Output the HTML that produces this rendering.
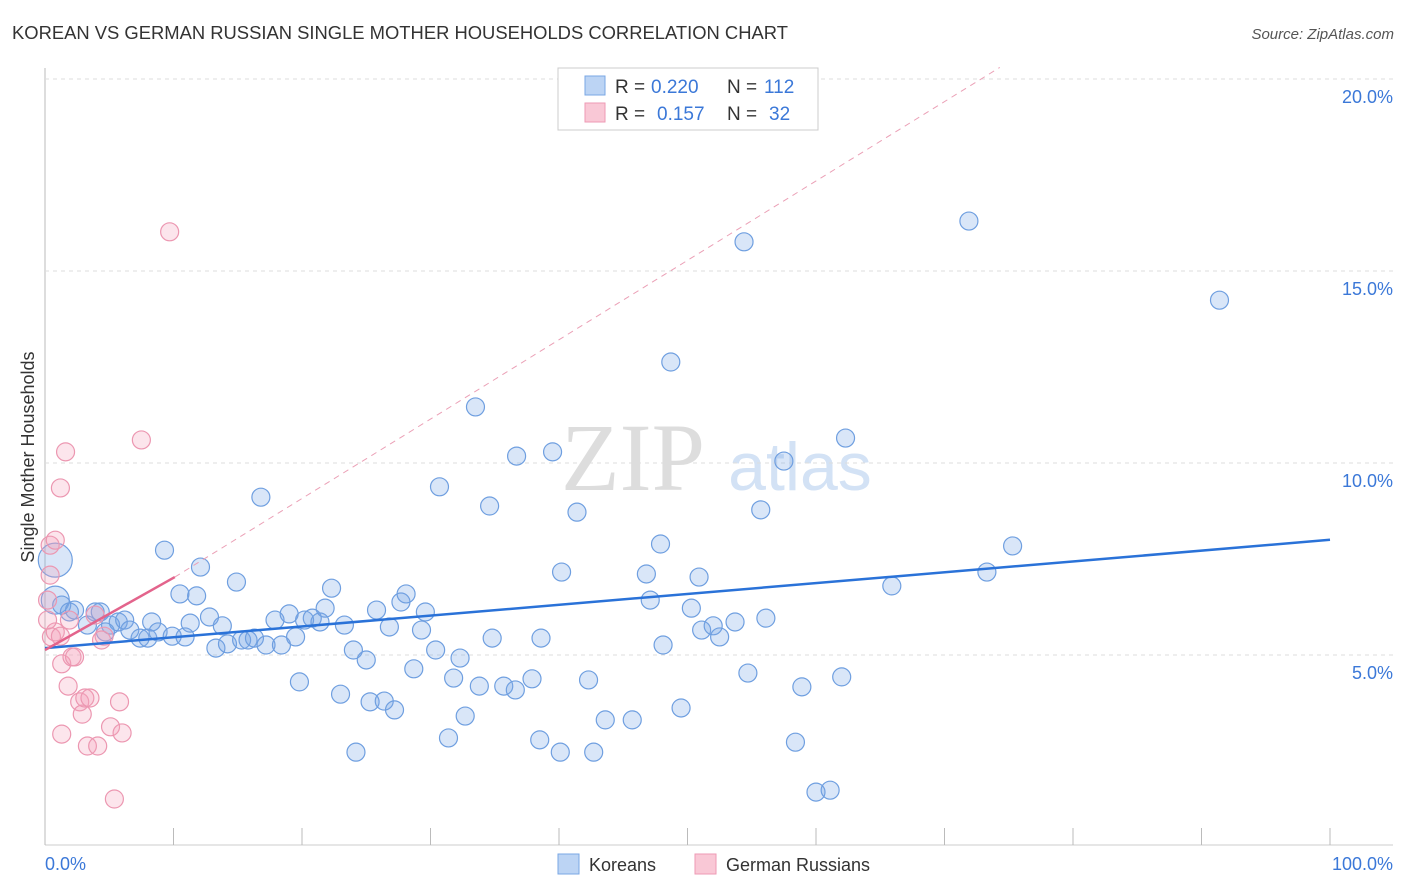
<!DOCTYPE html>
<html><head><meta charset="utf-8"><style>
body{margin:0;background:#fff;font-family:"Liberation Sans",sans-serif;}
svg{display:block}
</style></head><body>
<svg id="chart" width="1406" height="892">
<text x="12" y="39" font-size="18.4" fill="#333">KOREAN VS GERMAN RUSSIAN SINGLE MOTHER HOUSEHOLDS CORRELATION CHART</text>
<text x="1394" y="39" font-size="15" fill="#555" font-style="italic" text-anchor="end">Source: ZipAtlas.com</text>
<text x="633" y="490" font-size="96" fill="#ddd" font-family="Liberation Serif,serif" text-anchor="middle">ZIP</text>
<text x="800" y="490" font-size="68" fill="#d3e2f5" text-anchor="middle">atlas</text>
<g id="grid"></g><g id="pts"></g><g id="lines"></g>
<text transform="translate(34,457) rotate(-90)" font-size="18" fill="#333" text-anchor="middle">Single Mother Households</text>
<text x="45" y="870" font-size="18" fill="#3b78d8">0.0%</text>
<text x="1393" y="870" font-size="18" fill="#3b78d8" text-anchor="end">100.0%</text>
<g>
<rect x="558" y="68" width="260" height="62" fill="#fff" stroke="#ccc"/>
<rect x="585" y="76" width="20" height="19" fill="#bcd4f4" stroke="#7aa7e4"/>
<rect x="585" y="103" width="20" height="19" fill="#f9c8d6" stroke="#ee9ab4"/>
<text y="93" font-size="19" fill="#333"><tspan x="615">R =</tspan><tspan x="651" fill="#3b78d8">0.220</tspan><tspan x="727">N =</tspan><tspan x="764" fill="#3b78d8">112</tspan></text>
<text y="120" font-size="19" fill="#333"><tspan x="615">R =</tspan><tspan x="657" fill="#3b78d8">0.157</tspan><tspan x="727">N =</tspan><tspan x="769" fill="#3b78d8">32</tspan></text>
</g>
<g>
<rect x="558" y="854" width="21" height="20" fill="#bcd4f4" stroke="#7aa7e4"/>
<text x="589" y="871" font-size="18" fill="#333">Koreans</text>
<rect x="695" y="854" width="21" height="20" fill="#f9c8d6" stroke="#ee9ab4"/>
<text x="726" y="871" font-size="18" fill="#333">German Russians</text>
</g>
</svg>
<script>
const yTicks=[5,10,15,20];
const xTicks=[0,10,20,30,40,50,60,70,80,90,100];
const koreanX=[0.8,0.8,1.3,1.9,2.3,3.9,4.3,3.3,5.1,5.7,6.2,4.7,6.6,7.4,8.0,8.3,8.8,9.3,9.9,10.5,10.9,11.3,11.8,12.1,12.8,13.3,13.8,14.2,14.9,15.3,15.8,16.3,16.8,17.2,17.9,18.4,19.0,19.5,19.8,20.2,20.8,21.4,21.8,22.3,23.0,23.3,24.0,24.2,25.0,25.3,25.8,26.4,26.8,27.2,27.7,28.1,28.7,29.3,29.6,30.4,30.7,31.4,31.8,32.3,32.7,33.5,33.8,34.6,34.8,35.7,36.6,36.7,37.9,38.5,38.6,39.5,40.1,40.2,41.4,42.3,42.7,43.6,45.7,46.8,47.1,47.9,48.1,48.7,49.5,50.3,50.9,51.1,52.0,52.5,53.7,54.4,54.7,55.7,56.1,57.5,58.4,58.9,60.0,61.1,62.0,62.3,65.9,71.9,73.3,75.3,91.4];
const koreanY=[7.47,6.43,6.30,6.12,6.17,6.12,6.12,5.78,5.78,5.86,5.91,5.60,5.65,5.44,5.44,5.86,5.60,7.73,5.49,6.59,5.47,5.83,6.54,7.29,5.99,5.18,5.76,5.29,6.90,5.39,5.39,5.44,9.11,5.26,5.91,5.26,6.07,5.47,4.30,5.91,5.96,5.86,6.22,6.74,3.98,5.78,5.13,2.47,4.87,3.78,6.17,3.80,5.73,3.57,6.38,6.59,4.64,5.65,6.12,5.13,9.38,2.84,4.40,4.92,3.41,11.46,4.19,8.88,5.44,4.19,4.09,10.18,4.38,2.79,5.44,10.29,2.47,7.16,8.72,4.35,2.47,3.31,3.31,7.11,6.43,7.89,5.26,12.63,3.62,6.22,7.03,5.65,5.76,5.47,5.86,15.76,4.53,8.78,5.96,10.05,2.73,4.17,1.43,1.48,4.43,10.65,6.80,16.30,7.16,7.84,14.24];
const grX=[0.4,0.8,0.4,0.2,0.5,0.8,1.2,1.3,1.8,1.6,1.2,1.3,2.1,2.3,1.9,2.7,2.9,3.1,3.3,4.1,3.5,4.6,5.1,5.4,5.8,6.0,7.5,9.7,0.2,3.9,4.4];
const grY=[7.86,7.99,7.08,6.43,5.47,5.60,5.49,4.77,4.19,10.29,9.35,2.94,4.95,4.95,5.91,3.78,3.46,3.88,2.63,2.63,3.88,5.49,3.13,1.25,3.78,2.97,10.60,16.02,5.91,6.04,5.39];
const koreanFit=[5.18,8.0];
const grFit=[5.13,7.03];
const grExtEnd=[74.3,20.3];
const NS='http://www.w3.org/2000/svg';
const X=v=>45+v*12.85, Y=v=>847-v*38.4;
function mk(t,a,p){const e=document.createElementNS(NS,t);for(const k in a)e.setAttribute(k,a[k]);p.appendChild(e);return e;}
const grid=document.getElementById('grid');
mk('line',{x1:45,y1:68,x2:45,y2:845,stroke:'#bbb'},grid);
mk('line',{x1:45,y1:845,x2:1393,y2:845,stroke:'#ccc'},grid);
yTicks.forEach(t=>{
 const l=mk('line',{x1:45,y1:Y(t),x2:1393,y2:Y(t),stroke:'#ddd','stroke-dasharray':'4,4'},grid);
 
 
 const tx=mk('text',{x:1393,y:Y(t)+24,'font-size':18,fill:'#3b78d8','text-anchor':'end'},grid);
 tx.textContent=t.toFixed(1)+'%';
 
 
});
xTicks.forEach(t=>{
 const l=mk('line',{x1:X(t),y1:828,x2:X(t),y2:845,stroke:'#bbb'},grid);
 
 
});
const pts=document.getElementById('pts');
function dot(x,y,r,fill,stroke,name){
 const c=mk('circle',{cx:X(x),cy:Y(y),r:r,fill:fill,stroke:stroke,'stroke-width':1.2},pts);
 
 
}
koreanX.forEach((x,i)=>dot(x,koreanY[i],i===0?17:(i===1?14:9),'rgba(120,165,230,0.28)','#6f9fe0','korean-point'));
grX.forEach((x,i)=>dot(x,grY[i],9,'rgba(245,160,185,0.28)','#ec97b1','german-russian-point'));
const lines=document.getElementById('lines');
const bl=mk('line',{x1:X(0),y1:Y(koreanFit[0]),x2:X(100),y2:Y(koreanFit[1]),stroke:'#2a72d8','stroke-width':2.5},lines);


const pd=mk('line',{x1:X(10.1),y1:Y(grFit[1]),x2:X(grExtEnd[0]),y2:Y(grExtEnd[1]),stroke:'#eba0b6','stroke-width':1,'stroke-dasharray':'6,5'},lines);


const pl=mk('line',{x1:X(0),y1:Y(grFit[0]),x2:X(10.1),y2:Y(grFit[1]),stroke:'#e3648c','stroke-width':2.5},lines);


</script>
</body></html>
